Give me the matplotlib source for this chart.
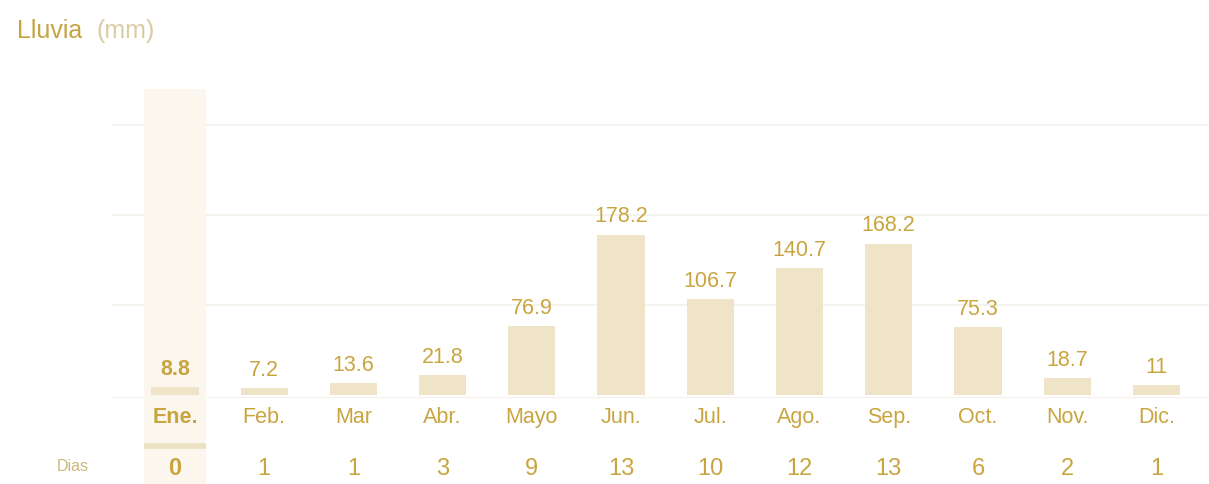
import matplotlib
matplotlib.use("Agg")
import matplotlib.pyplot as plt

months = ["Ene.", "Feb.", "Mar", "Abr.", "Mayo", "Jun.", "Jul.", "Ago.", "Sep.", "Oct.", "Nov.", "Dic."]
rain_mm = [8.8, 7.2, 13.6, 21.8, 76.9, 178.2, 106.7, 140.7, 168.2, 75.3, 18.7, 11]
rain_labels = ["8.8", "7.2", "13.6", "21.8", "76.9", "178.2", "106.7", "140.7", "168.2", "75.3", "18.7", "11"]
rain_days = [0, 1, 1, 3, 9, 13, 10, 12, 13, 6, 2, 1]
highlight = 0

plt.rcParams['font.family'] = ['Liberation Sans', 'DejaVu Sans']

W, H = 1209, 485
fig = plt.figure(figsize=(W / 100, H / 100), dpi=100)
# axes spanning px x 112..1209, y 90..485
ax = fig.add_axes([112 / W, 0, 1 - 112 / W, (485 - 90) / H])
ax.set_xlim(-0.706, 11.59)
ax.set_ylim(-99, 340)
ax.axis('off')

bar_color = '#efe4c7'
text_color = '#c9a53f'
grid_color = '#f4f1ea'

for g in [100, 200, 300]:
    ax.axhline(g, color=grid_color, lw=1.2, zorder=0)
ax.axhline(-2, color='#f6f3ec', lw=1.0, zorder=0)

x = list(range(len(months)))
# highlighted column
ax.axvspan(highlight - 0.35, highlight + 0.35, ymin=0, ymax=1, color='#fbf7ef', zorder=0, lw=0)
ax.plot([highlight - 0.35, highlight + 0.35], [-57, -57], color='#ece1c2', lw=4, solid_capstyle='butt', zorder=1)

ax.bar(x, rain_mm, width=0.53, color=bar_color, zorder=2)

for i in x:
    bold = 'bold' if i == highlight else 'normal'
    ax.text(i, rain_mm[i] + 9, rain_labels[i], ha='center', va='bottom', fontsize=15.5,
            color=text_color, fontweight=bold)
    ax.text(i, -24, months[i], ha='center', va='center', fontsize=15.5,
            color=text_color, fontweight=bold)
    ax.text(i, -81, str(rain_days[i]), ha='center', va='center', fontsize=17,
            color=text_color, fontweight=bold)

fig.text(57 / W, 1 - 467 / H, "Dias", ha='left', va='center', fontsize=11.5, color='#cdb77a')

fig.text(17 / W, 1 - 31 / H, "Lluvia", ha='left', va='center', fontsize=18, color='#c5a443')
fig.text(97 / W, 1 - 31 / H, "(mm)", ha='left', va='center', fontsize=18, color='#d9cba3')

fig.savefig("out.png", dpi=100)
